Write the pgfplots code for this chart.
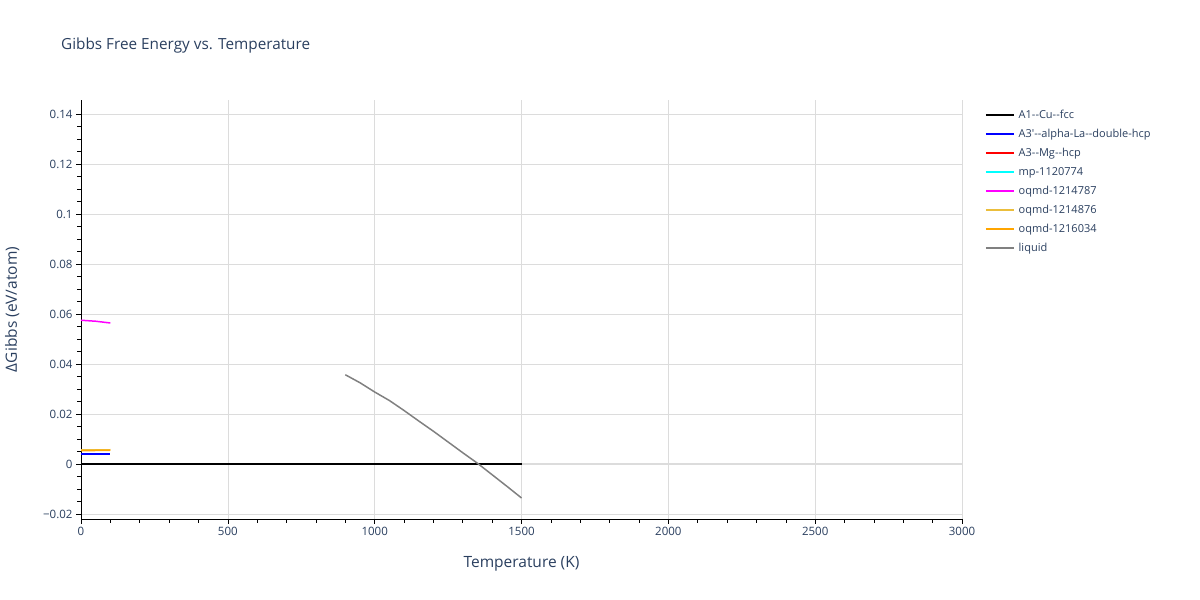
\documentclass[border=0pt]{standalone}
\usepackage{pgfplots}
\pgfplotsset{compat=1.18}
\usepackage{fontspec}
\setmainfont{Open Sans}[Ligatures=TeXOff]

\definecolor{plotlytext}{HTML}{2A3F5F}
\definecolor{gridgray}{HTML}{DCDCDC}
\definecolor{goldline}{RGB}{235,190,60}
\definecolor{orangeline}{RGB}{255,165,0}
\definecolor{cyanline}{RGB}{0,255,255}
\definecolor{magentaline}{RGB}{255,0,255}

\begin{document}
\begin{tikzpicture}[x=1bp,y=1bp]
  \path[use as bounding box] (0,0) rectangle (1200,600);
  \node[anchor=base west, text=plotlytext, font=\fontsize{15.3bp}{18bp}\selectfont, inner sep=0] at (61,550) {Gibbs Free Energy vs. Temperature};
  \begin{axis}[
      at={(81bp,81bp)},
      anchor=south west,
      scale only axis,
      width=881bp,
      height=419bp,
      xmin=0, xmax=3000,
      ymin=-0.022, ymax=0.1456,
      axis x line*=bottom,
      axis y line*=left,
      axis line style={black, line width=0.8pt, -},
      xtick={0,500,...,3000},
      ytick={-0.02,0,0.02,0.04,0.06,0.08,0.1,0.12,0.14},
      yticklabels={−0.02,0,0.02,0.04,0.06,0.08,0.1,0.12,0.14},
      minor x tick num=4,
      minor y tick num=3,
      tick align=outside,
      major tick length=5bp,
      minor tick length=4bp,
      tick style={black, line width=0.6pt},
      grid=major,
      major grid style={gridgray, line width=0.6pt},
      scaled y ticks=false,
      /pgf/number format/assume math mode=true,
      ticklabel style={text=plotlytext, font=\fontsize{11.5bp}{14bp}\selectfont},
      yticklabel style={/pgf/number format/fixed},
      xticklabel style={/pgf/number format/1000 sep={}},
      xlabel={Temperature (K)},
      ylabel={ΔGibbs (eV/atom)},
      label style={text=plotlytext, font=\fontsize{15.5bp}{18bp}\selectfont},
      xlabel style={at={(axis description cs:0.5,0)}, anchor=base, yshift=-49bp},
      ylabel style={at={(axis description cs:0,0.5)}, anchor=base, yshift=64bp},
      clip=true,
      legend cell align=left,
      legend style={at={(rel axis cs:1.0,1.0)}, anchor=north west, xshift=23bp, yshift=-9bp,
        draw=none, fill=none, text=plotlytext, font=\fontsize{11bp}{13bp}\selectfont,
        nodes={text height=9bp, text depth=3bp, inner xsep=4bp, inner ysep=0bp},
        row sep=7bp, inner sep=0pt},
      legend image code/.code={\draw[#1, line width=1.5pt] (0bp,0bp) -- (28bp,0bp);},
    ]
    % zero line
    \draw[gridgray, line width=1.5pt] (axis cs:0,0) -- (axis cs:3000,0);
    \addplot[black, line width=1.5pt] coordinates {(0,0) (100,0) (500,0) (1000,0) (1500,0)};
    \addlegendentry{A1--Cu--fcc}
    \addplot[blue, line width=1.5pt] coordinates {(0,0.0040) (50,0.0040) (100,0.0040)};
    \addlegendentry{A3'--alpha-La--double-hcp}
    \addlegendimage{red}
    \addlegendentry{A3--Mg--hcp}
    \addlegendimage{cyanline}
    \addlegendentry{mp-1120774}
    \addplot[magentaline, line width=1.5pt] coordinates {(0,0.0575) (50,0.0571) (100,0.0564)};
    \addlegendentry{oqmd-1214787}
    \addplot[goldline, line width=1.5pt] coordinates {(0,0.0056) (50,0.0056) (100,0.0057)};
    \addlegendentry{oqmd-1214876}
    \addplot[orangeline, line width=1.5pt] coordinates {(0,0.0053) (50,0.0054) (100,0.0055)};
    \addlegendentry{oqmd-1216034}
    \addplot[gray, line width=1.5pt] coordinates {
      (900,0.0357) (950,0.0325) (1000,0.0288) (1050,0.0254) (1100,0.0214)
      (1150,0.0172) (1200,0.0131) (1250,0.0088) (1300,0.0045) (1350,0.0003)
      (1400,-0.0043) (1450,-0.0089) (1500,-0.0136)};
    \addlegendentry{liquid}
  \end{axis}
\end{tikzpicture}
\end{document}
